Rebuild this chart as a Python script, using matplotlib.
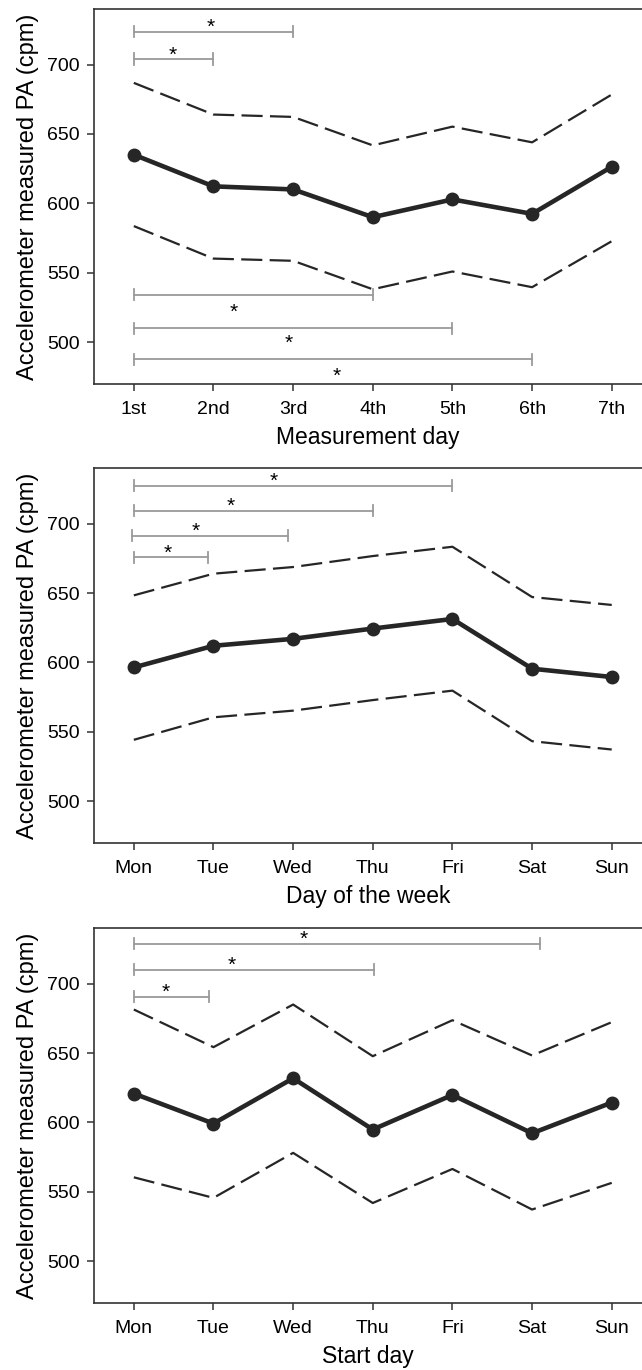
import matplotlib
matplotlib.use('Agg')
import matplotlib.pyplot as plt
import numpy as np

plt.rcParams['font.family'] = ['Liberation Sans', 'DejaVu Sans']

# panel 1: measurement day
day_labels = ['1st', '2nd', '3rd', '4th', '5th', '6th', '7th']
day_mean = [635.1, 612.3, 610.1, 590.1, 602.9, 592.5, 626.4]
day_upper = [686.8, 664.0, 662.3, 641.8, 655.3, 644.0, 678.4]
day_lower = [583.7, 560.3, 558.7, 538.2, 551.0, 539.7, 572.8]
# (start, end, bracket y, star x, star y)
day_brackets = [(1, 3, 723.6, 1.97, 727.0),
                (1, 2, 704.0, 1.49, 707.0),
                (1, 4, 534.4, 2.25, 521.5),
                (1, 5, 510.0, 2.95, 499.5),
                (1, 6, 487.7, 3.55, 475.5)]

# panel 2: day of the week
week_labels = ['Mon', 'Tue', 'Wed', 'Thu', 'Fri', 'Sat', 'Sun']
week_mean = [596.4, 612.0, 617.0, 624.4, 631.3, 595.5, 589.5]
week_upper = [648.3, 663.9, 668.7, 676.6, 683.3, 647.1, 641.4]
week_lower = [544.3, 560.5, 565.3, 572.9, 579.7, 543.3, 537.3]
week_brackets = [(1, 5, 727.3, 2.75, 730.5),
                 (1, 4, 709.1, 2.22, 712.3),
                 (0.98, 2.93, 691.1, 1.78, 694.3),
                 (1, 1.93, 675.6, 1.43, 678.8)]

# panel 3: start day
start_labels = ['Mon', 'Tue', 'Wed', 'Thu', 'Fri', 'Sat', 'Sun']
start_mean = [620.8, 599.2, 631.8, 594.9, 619.8, 592.2, 614.3]
start_upper = [681.3, 654.2, 684.9, 647.7, 673.6, 648.2, 672.2]
start_lower = [560.5, 545.7, 578.1, 542.0, 566.5, 537.3, 556.5]
start_brackets = [(1, 6.1, 728.6, 3.13, 731.8),
                  (1, 4.02, 709.8, 2.23, 713.0),
                  (1, 1.94, 690.6, 1.40, 693.8)]

panels = [
    (day_labels, day_mean, day_upper, day_lower, day_brackets, 'Measurement day'),
    (week_labels, week_mean, week_upper, week_lower, week_brackets, 'Day of the week'),
    (start_labels, start_mean, start_upper, start_lower, start_brackets, 'Start day'),
]

fig = plt.figure(figsize=(6.42, 13.70), dpi=100)
tops = [9, 468, 928]
H = 1370.0
ax_h = 375

dark = '#262626'
grey = '#9a9a9a'

for (labels, mean, upper, lower, brackets, xlab), top in zip(panels, tops):
    ax = fig.add_axes([94 / 642, 1 - (top + ax_h) / H, 548 / 642, ax_h / H])
    x = np.arange(1, len(labels) + 1)

    for lo, hi, by, sx, sy in brackets:
        ax.plot([lo, hi], [by, by], color=grey, lw=1.3)
        ax.plot([lo, lo], [by - 4, by + 4], color=grey, lw=1.3)
        ax.plot([hi, hi], [by - 4, by + 4], color=grey, lw=1.3)
        ax.text(sx, sy, '*', ha='center', va='center', fontsize=15, color='black')

    ax.plot(x, upper, color=dark, lw=1.6, dashes=(9.5, 3.3))
    ax.plot(x, lower, color=dark, lw=1.6, dashes=(9.5, 3.3))
    ax.plot(x, mean, color=dark, lw=3.3, marker='o', markersize=9)

    ax.set_xlim(0.5, 7.38)
    ax.set_ylim(470, 740)
    ax.set_xticks(x)
    ax.set_xticklabels(labels)
    ax.set_yticks([500, 550, 600, 650, 700])
    ax.tick_params(direction='out', length=5, width=1.1, color='#333333',
                   labelsize=14)
    ax.tick_params(axis='x', pad=7)
    ax.tick_params(axis='y', pad=5)
    for s in ['left', 'bottom', 'top']:
        ax.spines[s].set_color('#333333')
        ax.spines[s].set_linewidth(1.2)
    ax.spines['right'].set_visible(False)
    ax.set_xlabel(xlab, fontsize=16.5, labelpad=6)
    ax.set_ylabel('Accelerometer measured PA (cpm)', fontsize=17, labelpad=6)

fig.savefig('out.png', dpi=100)
